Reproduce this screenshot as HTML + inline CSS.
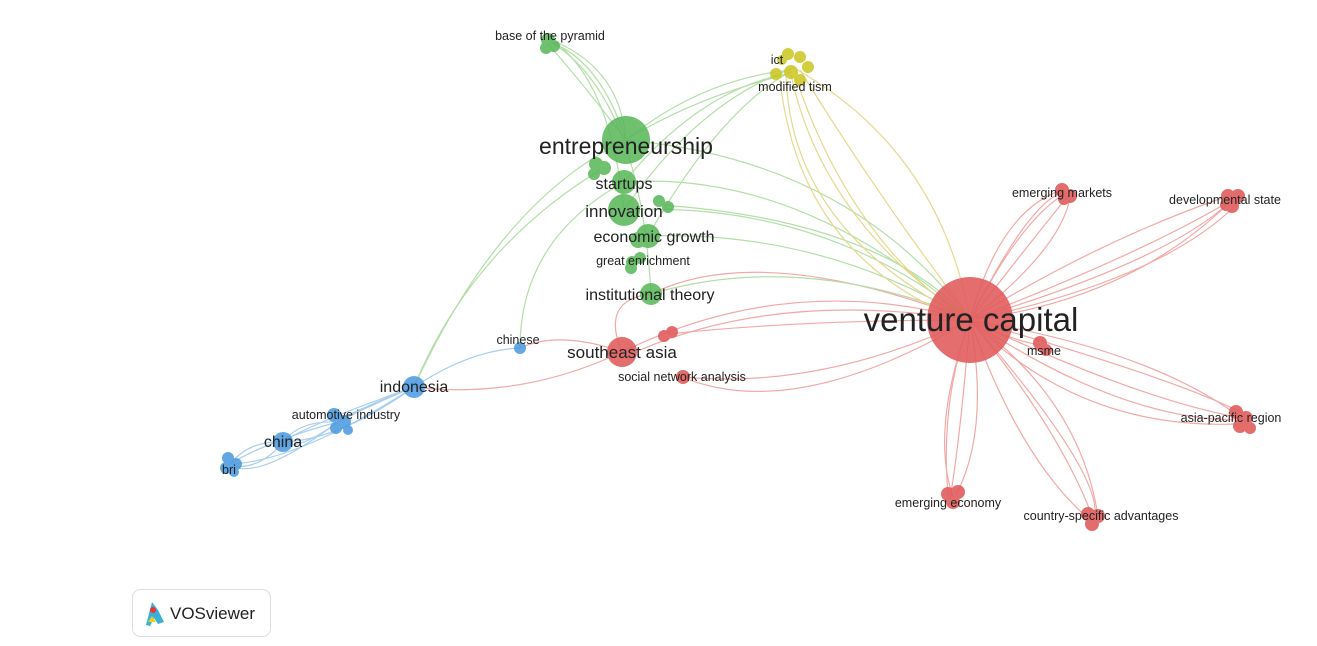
<!DOCTYPE html>
<html><head><meta charset="utf-8"><style>
html,body{margin:0;padding:0;background:#fff;width:1317px;height:646px;overflow:hidden}
svg text{font-family:"Liberation Sans","DejaVu Sans",sans-serif;fill:#222}
</style></head><body>
<svg width="1317" height="646" viewBox="0 0 1317 646" xmlns="http://www.w3.org/2000/svg">
<g fill="none" stroke-width="1.2" opacity="0.85">
<g stroke="#f19a9a">
<path d="M970 320 Q1020 220 1066 193"/><path d="M970 320 Q1040 230 1068 196"/><path d="M970 320 Q1000 210 1062 190"/><path d="M970 320 Q1060 250 1070 198"/><path d="M970 320 Q1030 200 1064 192"/>
<path d="M970 320 Q1150 250 1233 199"/><path d="M970 320 Q1130 300 1230 202"/><path d="M970 320 Q1160 280 1236 205"/><path d="M970 320 Q1100 240 1228 196"/><path d="M970 320 Q1170 260 1232 200"/>
<path d="M970 320 Q1010 340 1040 345"/>
<path d="M970 320 Q1150 350 1240 417"/><path d="M970 320 Q1120 420 1238 420"/><path d="M970 320 Q1180 380 1244 414"/><path d="M970 320 Q1080 430 1236 424"/><path d="M970 320 Q1140 400 1242 418"/>
<path d="M970 320 Q930 430 953 497"/><path d="M970 320 Q990 430 956 495"/><path d="M970 320 Q960 440 950 499"/><path d="M970 320 Q940 400 948 495"/>
<path d="M970 320 Q1060 430 1093 518"/><path d="M970 320 Q1100 470 1095 515"/><path d="M970 320 Q1020 460 1090 520"/><path d="M970 320 Q1080 400 1098 516"/>
<path d="M970 320 Q790 270 622 352"/><path d="M970 320 Q800 320 668 334"/><path d="M970 320 Q820 390 683 377"/><path d="M970 320 Q800 420 690 380"/><path d="M970 320 Q760 240 651 294"/><path d="M970 320 Q780 290 640 350"/>
<path d="M622 352 Q560 330 520 348"/><path d="M622 352 Q520 400 414 387"/><path d="M622 352 Q600 300 651 294"/>
</g>
<g stroke="#a6d99a">
<path d="M626 140 Q600 60 550 42"/><path d="M626 140 Q580 80 548 44"/><path d="M624 210 Q610 80 552 40"/><path d="M651 294 Q640 100 554 44"/><path d="M626 140 Q620 70 556 42"/>
<path d="M626 140 Q700 80 790 70"/><path d="M624 182 Q700 90 786 74"/><path d="M624 210 Q700 100 794 68"/><path d="M648 236 Q720 110 790 72"/><path d="M626 140 Q690 100 780 76"/>
<path d="M626 140 Q500 200 414 387"/><path d="M624 182 Q520 240 520 348"/><path d="M600 170 Q470 250 414 387"/>
<path d="M624 182 Q800 170 970 320"/><path d="M624 210 Q820 200 970 320"/><path d="M648 236 Q820 230 970 320"/><path d="M660 205 Q880 220 970 320"/><path d="M626 140 Q850 160 970 320"/><path d="M651 294 Q800 250 968 318"/>
</g>
<g stroke="#e1d37a">
<path d="M790 70 Q820 220 970 320"/><path d="M786 74 Q790 230 966 318"/><path d="M800 70 Q880 200 972 320"/><path d="M794 68 Q940 150 970 320"/><path d="M780 80 Q800 260 968 322"/><path d="M796 78 Q850 240 968 320"/>
</g>
<g stroke="#9cc6ea">
<path d="M414 387 Q470 350 520 348"/><path d="M414 387 Q360 410 338 422"/><path d="M414 387 Q380 400 342 418"/><path d="M414 387 Q340 440 283 442"/><path d="M414 387 Q320 420 285 440"/>
<path d="M338 422 Q300 420 283 442"/><path d="M338 422 Q300 450 283 444"/><path d="M338 422 Q270 440 230 464"/><path d="M338 422 Q260 480 232 466"/>
<path d="M283 442 Q250 440 230 464"/><path d="M283 442 Q260 470 232 466"/><path d="M414 387 Q300 460 232 464"/>
</g>
</g>
<g fill="#e05a5a" opacity="0.88">
<circle cx="970" cy="320" r="43"/>
<circle cx="622" cy="352" r="15"/><circle cx="664" cy="336" r="6"/><circle cx="672" cy="332" r="6"/><circle cx="683" cy="377" r="7"/>
<circle cx="1062" cy="190" r="7"/><circle cx="1070" cy="196" r="7"/><circle cx="1064" cy="199" r="6"/>
<circle cx="1228" cy="196" r="7"/><circle cx="1238" cy="196" r="7"/><circle cx="1232" cy="206" r="7"/><circle cx="1226" cy="205" r="6"/>
<circle cx="1040" cy="343" r="7"/><circle cx="1046" cy="350" r="6"/>
<circle cx="1236" cy="412" r="7"/><circle cx="1246" cy="418" r="7"/><circle cx="1240" cy="426" r="7"/><circle cx="1250" cy="428" r="6"/>
<circle cx="948" cy="494" r="7"/><circle cx="958" cy="492" r="7"/><circle cx="953" cy="502" r="7"/>
<circle cx="1088" cy="514" r="7"/><circle cx="1098" cy="516" r="7"/><circle cx="1092" cy="524" r="7"/>
</g>
<g fill="#5cb85c" opacity="0.88">
<circle cx="626" cy="140" r="24"/><circle cx="596" cy="164" r="7"/><circle cx="604" cy="168" r="7"/><circle cx="594" cy="174" r="6"/>
<circle cx="624" cy="182" r="12"/><circle cx="624" cy="210" r="16"/><circle cx="659" cy="201" r="6"/><circle cx="668" cy="207" r="6"/>
<circle cx="648" cy="236" r="12"/><circle cx="638" cy="240" r="8"/><circle cx="632" cy="262" r="6"/><circle cx="640" cy="258" r="6"/><circle cx="631" cy="268" r="6"/>
<circle cx="651" cy="294" r="11"/>
<circle cx="548" cy="40" r="7"/><circle cx="554" cy="46" r="6"/><circle cx="546" cy="48" r="6"/>
</g>
<g fill="#cbc826" opacity="0.88">
<circle cx="788" cy="54" r="6"/><circle cx="800" cy="57" r="6"/><circle cx="808" cy="67" r="6"/><circle cx="791" cy="72" r="7"/><circle cx="776" cy="74" r="6"/><circle cx="782" cy="60" r="5"/><circle cx="800" cy="80" r="6"/>
</g>
<g fill="#4d9be0" opacity="0.88">
<circle cx="414" cy="387" r="11"/><circle cx="520" cy="348" r="6"/>
<circle cx="334" cy="415" r="7"/><circle cx="344" cy="422" r="7"/><circle cx="336" cy="428" r="6"/><circle cx="348" cy="430" r="5"/>
<circle cx="283" cy="442" r="10"/>
<circle cx="228" cy="458" r="6"/><circle cx="236" cy="464" r="6"/><circle cx="226" cy="468" r="6"/><circle cx="234" cy="472" r="5"/>
</g>
<g text-anchor="middle">
<text x="971" y="331" font-size="33">venture capital</text>
<text x="626" y="154" font-size="23">entrepreneurship</text>
<text x="624" y="189" font-size="16">startups</text>
<text x="624" y="217" font-size="17">innovation</text>
<text x="654" y="242" font-size="16">economic growth</text>
<text x="643" y="265" font-size="12.5">great enrichment</text>
<text x="650" y="300" font-size="16">institutional theory</text>
<text x="622" y="358" font-size="17">southeast asia</text>
<text x="682" y="381" font-size="12.5">social network analysis</text>
<text x="550" y="40" font-size="12.5">base of the pyramid</text>
<text x="777" y="64" font-size="12.5">ict</text>
<text x="795" y="91" font-size="12.5">modified tism</text>
<text x="1062" y="197" font-size="12.5">emerging markets</text>
<text x="1225" y="204" font-size="12.5">developmental state</text>
<text x="1044" y="355" font-size="12.5">msme</text>
<text x="1231" y="422" font-size="12.5">asia-pacific region</text>
<text x="948" y="507" font-size="12.5">emerging economy</text>
<text x="1101" y="520" font-size="12.5">country-specific advantages</text>
<text x="518" y="344" font-size="12.5">chinese</text>
<text x="414" y="392" font-size="16">indonesia</text>
<text x="346" y="419" font-size="12.5">automotive industry</text>
<text x="283" y="447" font-size="16">china</text>
<text x="229" y="474" font-size="12.5">bri</text>
</g>
<rect x="132.5" y="589.5" width="138" height="47" rx="8" fill="#fff" stroke="#ddd"/>
<path d="M146 625 L152 602 L158 610 L164 622 L158 624 L154 618 L150 626 Z" fill="#3ab0d8"/>
<circle cx="153" cy="610" r="3" fill="#e33"/>
<path d="M148 622 L152 616 L156 622 Z" fill="#e6d020"/>
<text x="170" y="619" font-size="17" fill="#333">VOSviewer</text>
</svg>
</body></html>
